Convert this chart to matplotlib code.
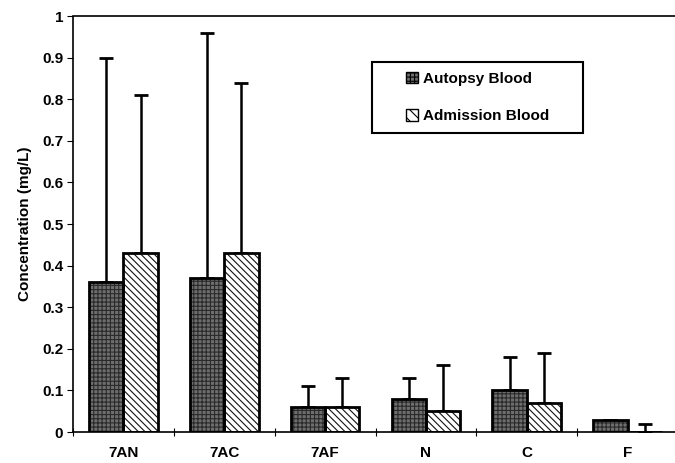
import matplotlib
matplotlib.use("Agg")
import matplotlib.pyplot as plt
import numpy as np
from matplotlib.patches import Rectangle, Patch

categories = ["7AN", "7AC", "7AF", "N", "C", "F"]
autopsy = [0.36, 0.37, 0.06, 0.08, 0.10, 0.03]
admission = [0.43, 0.43, 0.06, 0.05, 0.07, 0.0]
autopsy_top = [0.90, 0.96, 0.11, 0.13, 0.18, 0.03]
admission_top = [0.81, 0.84, 0.13, 0.16, 0.19, 0.02]
yticks = [0, 0.1, 0.2, 0.3, 0.4, 0.5, 0.6, 0.7, 0.8, 0.9, 1]
ytick_labels = ["0", "0.1", "0.2", "0.3", "0.4", "0.5", "0.6", "0.7", "0.8", "0.9", "1"]

plt.rcParams['font.family'] = ['Liberation Sans', 'DejaVu Sans']
plt.rcParams['hatch.linewidth'] = 0.8

fig = plt.figure(figsize=(6.75, 4.63), dpi=100)
ax = fig.add_axes([73/675, (463-432)/463, 605/675, 416/463])

x = np.arange(len(categories))
w = 0.34
auto_err = np.array(autopsy_top) - np.array(autopsy)
adm_err = np.array(admission_top) - np.array(admission)

auto_fc, auto_hc, auto_h = '#6e6e6e', '#2a2a2a', '++++'
adm_fc, adm_hc, adm_h = 'white', '#111111', '\\\\\\\\\\'

# hatched fill layers
ax.bar(x - w/2, autopsy, w, color=auto_fc, edgecolor=auto_hc, hatch=auto_h, linewidth=0, zorder=2)
ax.bar(x + w/2, admission, w, color=adm_fc, edgecolor=adm_hc, hatch=adm_h, linewidth=0, zorder=2)
# outlines
ax.bar(x - w/2, autopsy, w, fill=False, edgecolor='black', linewidth=2, zorder=3)
ax.bar(x + w/2, admission, w, fill=False, edgecolor='black', linewidth=2, zorder=3)

# error bars (upper only)
ax.errorbar(x - w/2, autopsy, yerr=[np.zeros(len(x)), auto_err], fmt='none',
            ecolor='black', elinewidth=1.8, capsize=5, capthick=2, zorder=1)
ax.errorbar(x + w/2, admission, yerr=[np.zeros(len(x)), adm_err], fmt='none',
            ecolor='black', elinewidth=1.8, capsize=5, capthick=2, zorder=1)

ax.set_xlim(-0.5, len(categories) - 0.5)
ax.set_ylim(0, 1)
ax.set_yticks(yticks)
ax.set_yticklabels(ytick_labels, fontsize=11, fontweight='bold')
ax.set_xticks(x)
ax.set_xticklabels(categories, fontsize=11, fontweight='bold')
ax.tick_params(axis='x', length=0, pad=10)
ax.set_xticks(np.arange(len(categories)) - 0.5, minor=True)
ax.tick_params(axis='x', which='minor', length=6, direction='inout', width=0.8)
ax.tick_params(axis='y', length=4, width=0.8, pad=3)

for s in ['left', 'top', 'bottom']:
    ax.spines[s].set_linestyle((0, (1, 1)))
    ax.spines[s].set_linewidth(1.2)
ax.spines['right'].set_visible(False)

ax.set_ylabel("Concentration (mg/L)", fontsize=11, fontweight='bold', labelpad=7)

# legend box
bx0, bx1 = (372-73)/605, (583-73)/605
by0, by1 = (432-133)/416, (432-62)/416
ax.add_patch(Rectangle((bx0, by0), bx1-bx0, by1-by0, transform=ax.transAxes,
                       fill=True, facecolor='white', edgecolor='black', linewidth=1.5, zorder=5))
handles = [Patch(facecolor=auto_fc, edgecolor='black', hatch=auto_h, linewidth=1),
           Patch(facecolor='white', edgecolor='black', hatch='\\\\\\', linewidth=1)]
leg = ax.legend(handles, ["Autopsy Blood", "Admission Blood"], loc='center',
                bbox_to_anchor=((bx0+bx1)/2, (by0+by1)/2), frameon=False,
                prop={'weight': 'bold', 'size': 11}, handlelength=0.8, handleheight=0.8,
                handletextpad=0.3, labelspacing=1.55)
leg.set_zorder(6)

fig.savefig("out.png", dpi=100)
